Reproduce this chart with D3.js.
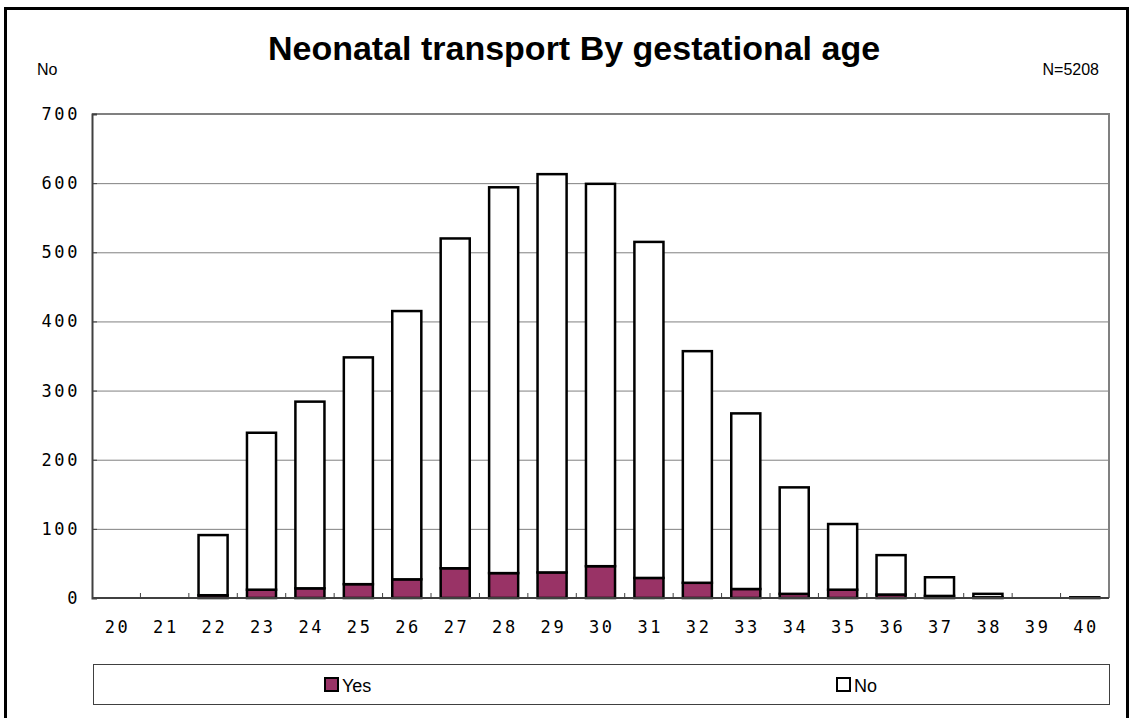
<!DOCTYPE html>
<html>
<head>
<meta charset="utf-8">
<script src="https://cdn.jsdelivr.net/npm/d3@7"></script>
<style>
  body { margin: 0; background: #ffffff; }
  svg { display: block; }
</style>
</head>
<body>
<script>
// Chart data
var ages = ["20", "21", "22", "23", "24", "25", "26", "27", "28", "29", "30",
            "31", "32", "33", "34", "35", "36", "37", "38", "39", "40"];
var yes_counts = [0, 0, 4, 12, 14, 20, 27, 43, 36, 37, 46, 29, 22, 13, 6, 12, 5, 3, 1, 0, 0];
var no_counts = [0, 0, 87, 227, 270, 328, 388, 477, 558, 576, 553, 486, 335, 254, 154, 95, 57, 27, 5, 0, 1];
var y_ticks = [0, 100, 200, 300, 400, 500, 600, 700];
var series_names = ["Yes", "No"];

var SVG_WIDTH = 1131;
var SVG_HEIGHT = 718;

var plot_left = 92, plot_right = 1109, plot_top = 114, plot_bottom = 598;

var yes_color = "#993366";
var no_color = "#ffffff";
var grid_color = "#808080";
var mono_font = "'DejaVu Sans Mono', 'Liberation Mono', monospace";
var sans_font = "'Liberation Sans', Arial, sans-serif";

// build rows for the stack
var rows = ages.map(function (a, i) {
  return { age: a, Yes: yes_counts[i], No: no_counts[i] };
});

var svg = d3.select("body").append("svg")
            .attr("width", SVG_WIDTH)
            .attr("height", SVG_HEIGHT);

// outer frame
svg.append("rect")
    .attr("x", 5.5).attr("y", 8.5)
    .attr("width", 1122).attr("height", 760)
    .style("fill", "#ffffff")
    .style("stroke", "#000000")
    .style("stroke-width", 3);

// title and side notes
svg.append("text")
    .attr("x", 574).attr("y", 60)
    .attr("text-anchor", "middle")
    .style("font-family", sans_font)
    .style("font-weight", "bold")
    .style("font-size", "34px")
    .text("Neonatal transport By gestational age");

svg.append("text")
    .attr("x", 37).attr("y", 75)
    .style("font-family", sans_font)
    .style("font-size", "16px")
    .text("No");

svg.append("text")
    .attr("x", 1099).attr("y", 75)
    .attr("text-anchor", "end")
    .style("font-family", sans_font)
    .style("font-size", "16px")
    .text("N=5208");

// scales
var x = d3.scaleBand()
          .domain(ages)
          .range([plot_left, plot_right])
          .paddingInner(0.4)
          .paddingOuter(0.2);

var y = d3.scaleLinear()
          .domain([0, 700])
          .range([plot_bottom, plot_top]);

// gridlines
svg.append("g")
    .selectAll("line")
    .data(y_ticks.filter(function (d) { return d > 0 && d < 700; }))
    .enter().append("line")
      .attr("x1", plot_left).attr("x2", plot_right)
      .attr("y1", function (d) { return y(d) + 0.5; })
      .attr("y2", function (d) { return y(d) + 0.5; })
      .style("stroke", grid_color)
      .style("stroke-width", 1);

// top and right border of plot area
svg.append("path")
    .attr("d", "M" + plot_left + "," + y(700) + "H" + plot_right + "V" + plot_bottom)
    .style("fill", "none")
    .style("stroke", grid_color)
    .style("stroke-width", 2);

// stacked bars
var stacked = d3.stack().keys(series_names)(rows);
var colors = { Yes: yes_color, No: no_color };

svg.append("g")
    .selectAll("g")
    .data(stacked)
    .enter().append("g")
      .style("fill", function (d) { return colors[d.key]; })
    .selectAll("rect")
    .data(function (d) { return d.filter(function (s) { return s[1] - s[0] > 0; }); })
    .enter().append("rect")
      .attr("x", function (d) { return x(d.data.age); })
      .attr("y", function (d) { return y(d[1]); })
      .attr("width", x.bandwidth())
      .attr("height", function (d) { return y(d[0]) - y(d[1]); })
      .style("stroke", "#000000")
      .style("stroke-width", 2.5);

// y axis with inward ticks
var y_axis = svg.append("g")
    .attr("transform", "translate(" + plot_left + ",0)")
    .call(d3.axisLeft(y).tickValues(y_ticks).tickSize(-5).tickPadding(12));

y_axis.select(".domain").style("stroke", "#404040").style("stroke-width", 2);
y_axis.selectAll(".tick line").style("stroke", "#404040");
y_axis.selectAll("text")
    .style("font-family", mono_font)
    .style("font-size", "17px")
    .style("letter-spacing", "2.6px")
    .style("fill", "#000000");

// x axis labels centered on bands
var x_axis = svg.append("g")
    .attr("transform", "translate(0," + plot_bottom + ")")
    .call(d3.axisBottom(x).tickSize(0).tickPadding(23));

x_axis.select(".domain").remove();
x_axis.selectAll("text")
    .attr("dx", "1.3px")
    .style("font-family", mono_font)
    .style("font-size", "17px")
    .style("letter-spacing", "2.6px")
    .style("fill", "#000000");

// x tick marks between categories
var step = x.step();
svg.append("g")
    .selectAll("line")
    .data(ages.slice(1))
    .enter().append("line")
      .attr("x1", function (d) { return x(d) - (step - x.bandwidth()) / 2; })
      .attr("x2", function (d) { return x(d) - (step - x.bandwidth()) / 2; })
      .attr("y1", plot_bottom).attr("y2", plot_bottom - 5)
      .style("stroke", "#404040")
      .style("stroke-width", 1);

// baseline
svg.append("line")
    .attr("x1", plot_left).attr("x2", plot_right)
    .attr("y1", plot_bottom).attr("y2", plot_bottom)
    .style("stroke", "#404040")
    .style("stroke-width", 2);

// legend box
var legend = svg.append("g");
legend.append("rect")
    .attr("x", 93.5).attr("y", 664.5)
    .attr("width", 1016).attr("height", 40)
    .style("fill", "#ffffff")
    .style("stroke", "#404040")
    .style("stroke-width", 1);

var legend_x = { Yes: 324, No: 836 };
var legend_items = legend.selectAll("g.item")
    .data(series_names)
    .enter().append("g")
      .attr("class", "item")
      .attr("transform", function (d) { return "translate(" + legend_x[d] + ",677)"; });

legend_items.append("rect")
    .attr("x", 1).attr("y", 1)
    .attr("width", 13).attr("height", 13)
    .style("fill", function (d) { return colors[d]; })
    .style("stroke", "#000000")
    .style("stroke-width", 2);

legend_items.append("text")
    .attr("x", 18).attr("y", 15)
    .style("font-family", sans_font)
    .style("font-size", "18px")
    .text(function (d) { return d; });
</script>
</body>
</html>
